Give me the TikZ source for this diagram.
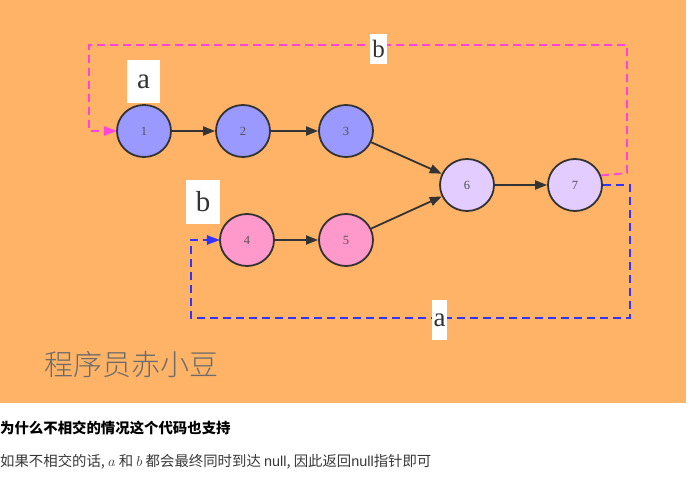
\documentclass[tikz,border=0pt]{standalone}
\usepackage{fontspec}
\setmainfont{Liberation Serif}
\newfontfamily\cjk{Noto Sans CJK SC}
\newfontfamily\cjkl{Noto Sans CJK SC Light}
\newfontfamily\sans{Liberation Sans}
\usetikzlibrary{arrows.meta,shapes.geometric}
\definecolor{bgorange}{HTML}{FFB366}
\definecolor{nblue}{HTML}{9999FF}
\definecolor{npink}{HTML}{FF99CC}
\definecolor{nlilac}{HTML}{E3CCFF}
\definecolor{edark}{HTML}{333333}
\definecolor{dmag}{HTML}{FF44DD}
\definecolor{dblue}{HTML}{3333FF}
\begin{document}
\begin{tikzpicture}[x=1pt,y=-1pt,
  lnode/.style={ellipse,draw=edark,line width=1.8pt,minimum width=54pt,minimum height=52pt,inner sep=0pt,font=\fontsize{12.5}{14}\selectfont,text=edark!85},
  flow/.style={draw=edark,line width=1.8pt,-{Triangle[length=12pt,width=9pt]}},
  dashm/.style={draw=dmag,line width=1.8pt,dash pattern=on 8pt off 5pt},
  dashb/.style={draw=dblue,line width=1.8pt,dash pattern=on 8pt off 5pt},
  tag/.style={fill=white,inner sep=0pt,text=edark},
]
\useasboundingbox (0,0) rectangle (694,481);
\fill[bgorange] (0,0) rectangle (686,403);
\node[lnode,fill=nblue] (n1) at (144,131) {1};
\node[lnode,fill=nblue] (n2) at (243,131) {2};
\node[lnode,fill=nblue] (n3) at (346,131) {3};
\node[lnode,fill=nlilac] (n6) at (467,185) {6};
\node[lnode,fill=nlilac] (n7) at (575,185) {7};
\node[lnode,fill=npink] (n4) at (247,240) {4};
\node[lnode,fill=npink] (n5) at (346,240) {5};
\draw[flow] (n1) -- (n2);
\draw[flow] (n2) -- (n3);
\draw[flow] (n3) -- (n6);
\draw[flow] (n5) -- (n6);
\draw[flow] (n4) -- (n5);
\draw[flow] (n6) -- (n7);
% dashed loops
\coordinate (m1) at (627,173);
\coordinate (m2) at (627,45);
\coordinate (m3) at (89,45);
\coordinate (m4) at (89,131);
\draw[dashm] (n7.20) -- (m1) -- (m2) -- (m3) -- (m4) -- ([xshift=-12pt]n1.west);
\draw[dmag,fill=dmag] (n1.west) -- ++(-12,-4.5) -- ++(0,9) -- cycle;
\coordinate (b1) at (630,185);
\coordinate (b2) at (630,318);
\coordinate (b3) at (191,318);
\coordinate (b4) at (191,240);
\draw[dashb] (n7.east) -- (b1) -- (b2) -- (b3) -- (b4) -- ([xshift=-12pt]n4.west);
\draw[dblue,fill=dblue] (n4.west) -- ++(-12,-4.5) -- ++(0,9) -- cycle;
% labels
\node[tag,minimum width=33pt,minimum height=43pt,font=\fontsize{29}{30}\selectfont] (la) at (143.5,81.5) {a};
\node[tag,minimum width=34pt,minimum height=44pt,font=\fontsize{29}{30}\selectfont] (lb) at (203,202) {b};
\node[tag,minimum width=17pt,minimum height=30pt,font=\fontsize{25}{26}\selectfont] (lb2) at (378.5,49) {b};
\node[tag,minimum width=15pt,minimum height=40pt,font=\fontsize{27}{28}\selectfont] (la2) at (439.5,320) {a};
% watermark
\node[anchor=west,inner sep=0pt,text=black!58,font=\cjkl\fontsize{29}{30}\selectfont] (wm) at (44,364) {程序员赤小豆};
% text below
\node[anchor=west,inner sep=0pt,font=\cjk\bfseries\fontsize{14.4}{16}\selectfont] (t1) at (0,428) {为什么不相交的情况这个代码也支持};
\node[anchor=west,inner sep=0pt,text=black!78,font=\cjk\fontsize{14.4}{16}\selectfont] (t2) at (0,462) {如果不相交的话, $a$ 和 $b$ 都会最终同时到达 {\sans null}, 因此返回{\sans null}指针即可};
\end{tikzpicture}
\end{document}
